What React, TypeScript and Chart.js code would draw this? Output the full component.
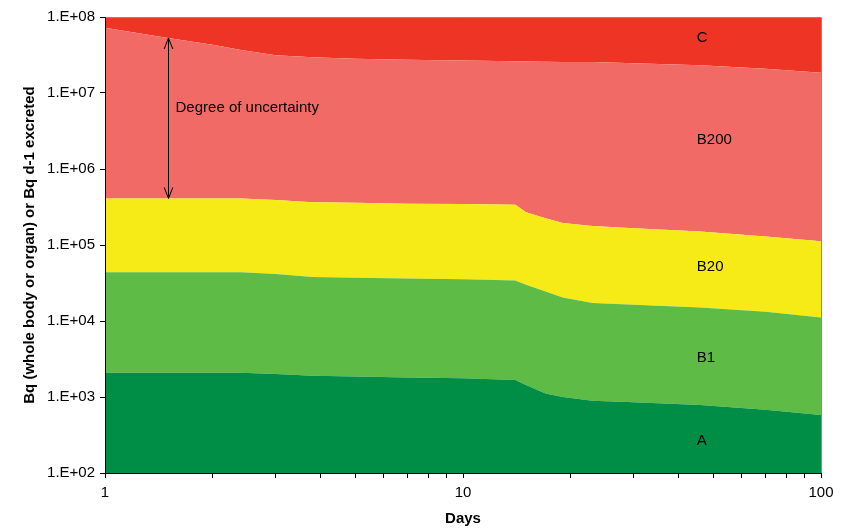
import React, { useEffect, useRef } from 'react';
import { Chart, registerables } from 'chart.js';

Chart.register(...registerables);

// ---- data (days on a log axis, Bq on a log axis) ----
const days = [1, 1.5, 2, 2.4, 3, 3.8, 5, 7, 10, 14, 15, 17, 19, 23, 30, 46, 70, 100];
// upper boundary of zone A (= lower boundary of B1)
const boundaryA = [2090, 2090, 2090, 2090, 2000, 1900, 1860, 1810, 1760, 1680, 1440, 1110, 1000, 890, 850, 785, 680, 580];
// upper boundary of zone B1
const boundaryB1 = [43700, 43700, 43700, 43700, 41500, 38000, 37000, 36200, 35500, 34200, 29900, 24400, 20400, 17300, 16400, 15100, 13200, 11100];
// upper boundary of zone B20
const boundaryB20 = [410000, 410000, 410000, 410000, 390000, 365000, 359000, 350000, 346000, 339000, 270000, 225000, 195000, 178000, 166000, 151000, 129000, 112000];
// upper boundary of zone B200
const boundaryB200 = [7.2e7, 5.3e7, 4.33e7, 3.69e7, 3.13e7, 2.96e7, 2.82e7, 2.73e7, 2.68e7, 2.61e7, 2.6e7, 2.58e7, 2.56e7, 2.55e7, 2.47e7, 2.31e7, 2.08e7, 1.85e7];
// upper limit of zone C (top of the axis)
const boundaryC = [1e8, 1e8, 1e8, 1e8, 1e8, 1e8, 1e8, 1e8, 1e8, 1e8, 1e8, 1e8, 1e8, 1e8, 1e8, 1e8, 1e8, 1e8];

const zoneNames = ['A', 'B1', 'B20', 'B200', 'C'];
const zoneColors = ['#008D45', '#5EBB46', '#F6EB17', '#F26A65', '#EE3424'];

// zone labels (text, day, value)
const labelTexts = ['C', 'B200', 'B20', 'B1', 'A'];
const labelDay = 45;
const labelValues = [5.35e7, 2.41e6, 5.14e4, 3.26e3, 266];

// uncertainty arrow
const arrowDay = 1.5;
const arrowRange = [4.1e5, 5.3e7];
const noteText = 'Degree of uncertainty';
const noteDay = 1.574;
const noteValue = 6.41e6;

// ticks
const xTickValues = [1, 2, 3, 4, 5, 6, 7, 8, 9, 10, 20, 30, 40, 50, 60, 70, 80, 90, 100];
const xTickLabels = [1, 10, 100];
const yTickValues = [1e2, 1e3, 1e4, 1e5, 1e6, 1e7, 1e8];

const xTitle = 'Days';
const yTitle = 'Bq (whole body or organ) or Bq d-1 excreted';

const FONT = '"Liberation Sans", Arial, sans-serif';

const overlay = {
  id: 'overlay',
  afterDatasetsDraw(chart: any) {
    const { ctx, chartArea: ca, scales } = chart;
    const x = scales.x;
    const y = scales.y;
    ctx.save();
    // plot-area frame (top / right, grey)
    ctx.strokeStyle = '#8c8c8c';
    ctx.lineWidth = 1;
    ctx.beginPath();
    ctx.moveTo(ca.left, Math.floor(ca.top) + 0.5);
    ctx.lineTo(Math.floor(ca.right) + 0.5, Math.floor(ca.top) + 0.5);
    ctx.lineTo(Math.floor(ca.right) + 0.5, ca.bottom);
    ctx.stroke();
    // axis lines (black)
    ctx.strokeStyle = '#000';
    ctx.beginPath();
    ctx.moveTo(Math.floor(ca.left) + 0.5, ca.top);
    ctx.lineTo(Math.floor(ca.left) + 0.5, Math.floor(ca.bottom) + 0.5);
    ctx.lineTo(ca.right + 0.5, Math.floor(ca.bottom) + 0.5);
    ctx.stroke();

    // arrow
    const ax = Math.round(x.getPixelForValue(arrowDay)) + 0.5;
    const yBot = y.getPixelForValue(arrowRange[0]);
    const yTop = y.getPixelForValue(arrowRange[1]);
    ctx.strokeStyle = '#000';
    ctx.lineWidth = 1;
    ctx.beginPath();
    ctx.moveTo(ax, yTop);
    ctx.lineTo(ax, yBot);
    ctx.moveTo(ax - 4.3, yTop + 11);
    ctx.lineTo(ax, yTop);
    ctx.lineTo(ax + 4.3, yTop + 11);
    ctx.moveTo(ax - 4.3, yBot - 11);
    ctx.lineTo(ax, yBot);
    ctx.lineTo(ax + 4.3, yBot - 11);
    ctx.stroke();

    ctx.fillStyle = '#000';
    ctx.font = '15px ' + FONT;
    ctx.textAlign = 'left';
    ctx.textBaseline = 'middle';
    ctx.fillText(noteText, x.getPixelForValue(noteDay), y.getPixelForValue(noteValue));
    labelTexts.forEach((t, i) => {
      ctx.fillText(t, x.getPixelForValue(labelDay), y.getPixelForValue(labelValues[i]));
    });
    ctx.restore();
  },
};

export default function App() {
  const ref = useRef<HTMLCanvasElement>(null);
  useEffect(() => {
    document.body.style.margin = '0';
    const boundaries = [boundaryA, boundaryB1, boundaryB20, boundaryB200, boundaryC];
    const datasets = boundaries.map((vals, i) => ({
      label: zoneNames[i],
      data: days.map((d, j) => ({ x: d, y: vals[j] })),
      backgroundColor: zoneColors[i],
      borderColor: zoneColors[i],
      borderWidth: 0,
      pointRadius: 0,
      tension: 0,
      fill: i === 0 ? 'start' : '-1',
    }));
    const chart = new Chart(ref.current as HTMLCanvasElement, {
      type: 'line',
      data: { datasets },
      options: {
        animation: false,
        responsive: false,
        devicePixelRatio: 1,
        layout: { padding: { top: 17, right: 25, left: 0, bottom: 0 } },
        plugins: { legend: { display: false }, tooltip: { enabled: false } },
        scales: {
          x: {
            type: 'logarithmic',
            position: 'bottom',
            min: 1,
            max: 100,
            afterBuildTicks: (s: any) => {
              s.ticks = xTickValues.map((v) => ({ value: v }));
            },
            afterFit: (s: any) => {
              s.height = 55;
            },
            ticks: {
              autoSkip: false,
              maxRotation: 0,
              color: '#000',
              padding: 6,
              font: { family: FONT, size: 15 },
              callback: (v: any) => (xTickLabels.includes(Number(v)) ? String(v) : ''),
            },
            grid: { drawOnChartArea: false, drawTicks: true, tickLength: 5, color: '#000' },
            border: { display: true, color: '#000' },
            title: {
              display: true,
              text: xTitle,
              color: '#000',
              font: { family: FONT, size: 15, weight: 'bold' },
              padding: { top: 0, bottom: 0 },
            },
          },
          y: {
            type: 'logarithmic',
            min: 1e2,
            max: 1e8,
            afterBuildTicks: (s: any) => {
              s.ticks = yTickValues.map((v) => ({ value: v }));
            },
            afterFit: (s: any) => {
              s.width = 105;
            },
            ticks: {
              autoSkip: false,
              color: '#000',
              padding: 5,
              font: { family: FONT, size: 15 },
              callback: (v: any) => {
                const e = Math.round(Math.log10(Number(v)));
                return '1.E+' + (e < 10 ? '0' : '') + e;
              },
            },
            grid: { drawOnChartArea: false, drawTicks: true, tickLength: 5, color: '#000' },
            border: { display: true, color: '#000' },
            title: {
              display: true,
              text: yTitle,
              color: '#000',
              font: { family: FONT, size: 15, weight: 'bold' },
              padding: { top: 21, bottom: 0 },
            },
          },
        },
      } as any,
      plugins: [overlay],
    });
    return () => chart.destroy();
  }, []);
  return (
    <div style={{ width: 846, height: 528 }}>
      <canvas ref={ref} width={846} height={528} style={{ display: 'block' }} />
    </div>
  );
}
